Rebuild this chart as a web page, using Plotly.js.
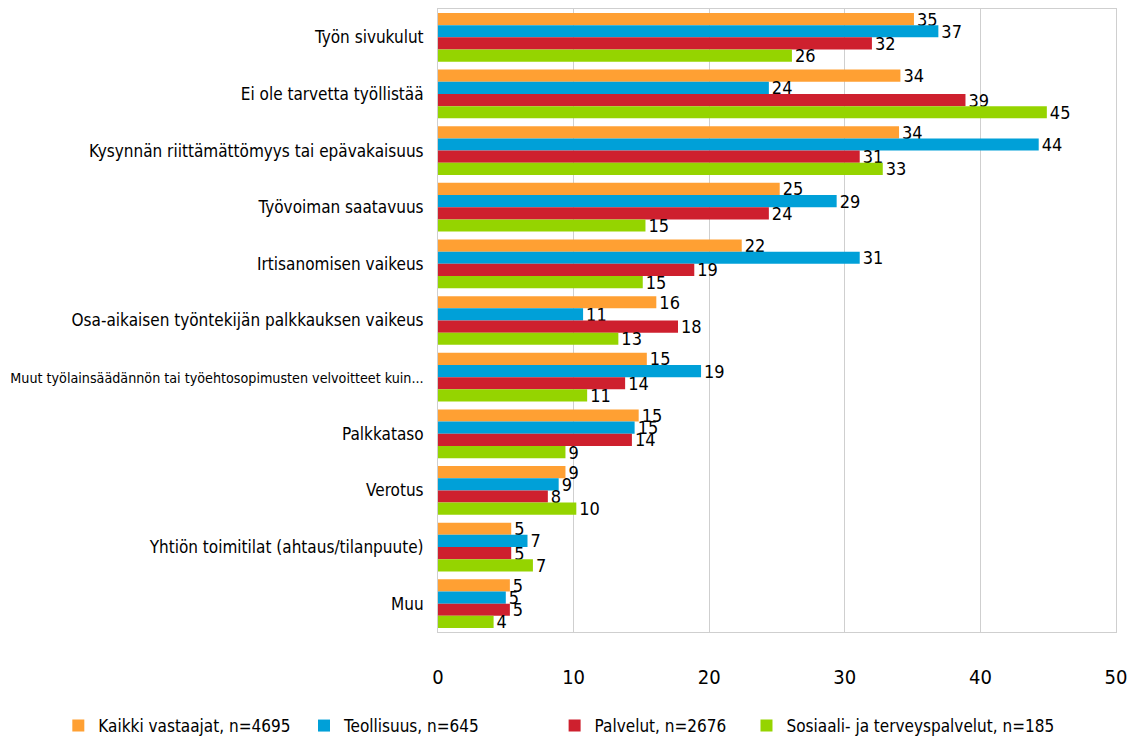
<!DOCTYPE html>
<html>
<head>
<meta charset="utf-8">
<script src="https://cdn.plot.ly/plotly-3.0.1.min.js"></script>
<style>
html,body{margin:0;padding:0;background:#fff;}
#chart{width:1139px;height:742px;}
#chart text{font-stretch:condensed !important;}
</style>
</head>
<body>
<div id="chart"></div>
<script>
const categories = [
  "Työn sivukulut",
  "Ei ole tarvetta työllistää",
  "Kysynnän riittämättömyys tai epävakaisuus",
  "Työvoiman saatavuus",
  "Irtisanomisen vaikeus",
  "Osa-aikaisen työntekijän palkkauksen vaikeus",
  "Muut työlainsäädännön tai työehtosopimusten velvoitteet kuin...",
  "Palkkataso",
  "Verotus",
  "Yhtiön toimitilat (ahtaus/tilanpuute)",
  "Muu"
];
const seriesNames = [
  "Kaikki vastaajat, n=4695",
  "Teollisuus, n=645",
  "Palvelut, n=2676",
  "Sosiaali- ja terveyspalvelut, n=185"
];
const kaikki   = [35.1, 34.1, 34.0, 25.2, 22.4, 16.1, 15.4, 14.8, 9.4, 5.4, 5.3];
const teollisuus = [36.9, 24.4, 44.3, 29.4, 31.1, 10.7, 19.4, 14.5, 8.9, 6.6, 5.0];
const palvelut = [32.0, 38.9, 31.1, 24.4, 18.9, 17.7, 13.8, 14.3, 8.1, 5.4, 5.3];
const sote     = [26.1, 44.9, 32.8, 15.3, 15.1, 13.3, 11.0, 9.4, 10.2, 7.0, 4.1];
const colors = ["#FFA033", "#00A0D8", "#CE202E", "#95D400"];

const valueSets = [kaikki, teollisuus, palvelut, sote];
const legendIds = ["legend", "legend2", "legend3", "legend4"];
const legendX = [-0.56, -0.1976, 0.172, 0.455];
const FONT = "'DejaVu Sans Condensed', 'Liberation Sans Narrow', 'DejaVu Sans', sans-serif";
const traces = valueSets.map((vals, i) => ({
  type: "bar",
  orientation: "h",
  name: seriesNames[i],
  legend: legendIds[i],
  y: categories,
  x: vals,
  marker: {color: colors[i]},
  text: vals.map(v => String(Math.round(v))),
  textposition: "outside",
  constraintext: "none",
  textfont: {family: FONT, size: 18, color: "#000"},
  cliponaxis: false,
  hoverinfo: "x+name"
}));

const tickText = categories.map(c => c.length > 50 ? '<span style="font-size:14.2px">' + c + '</span>' : c);

const layout = {
  width: 1139, height: 742,
  margin: {l: 438, r: 23, t: 9, b: 110, autoexpand: false},
  paper_bgcolor: "#fff", plot_bgcolor: "#fff",
  barmode: "group",
  bargap: 0.14,
  bargroupgap: 0,
  font: {family: FONT, size: 17, color: "#000"},
  xaxis: {
    range: [0, 50], dtick: 10, tick0: 0,
    showgrid: true, gridcolor: "#cfcfcf", gridwidth: 1,
    zeroline: false,
    showline: true, linecolor: "#cfcfcf", linewidth: 1, mirror: true,
    ticks: "", ticklabelstandoff: 27,
    tickfont: {family: FONT, size: 20, color: "#000"},
    fixedrange: true
  },
  yaxis: {
    autorange: "reversed",
    tickmode: "array", tickvals: categories, ticktext: tickText,
    showline: true, linecolor: "#cfcfcf", linewidth: 1, mirror: true,
    ticks: "", ticklabelstandoff: 10,
    tickfont: {family: FONT, size: 17, color: "#000"},
    fixedrange: true
  },
  showlegend: true
};
legendIds.forEach((id, i) => {
  layout[id] = {
    orientation: "h",
    xref: "paper", yref: "paper",
    x: legendX[i], xanchor: "left",
    y: -0.122, yanchor: "top",
    itemwidth: 30,
    bgcolor: "rgba(0,0,0,0)",
    font: {family: FONT, size: 17, color: "#000"}
  };
});

Plotly.newPlot("chart", traces, layout, {displayModeBar: false, staticPlot: true});
</script>
</body>
</html>
